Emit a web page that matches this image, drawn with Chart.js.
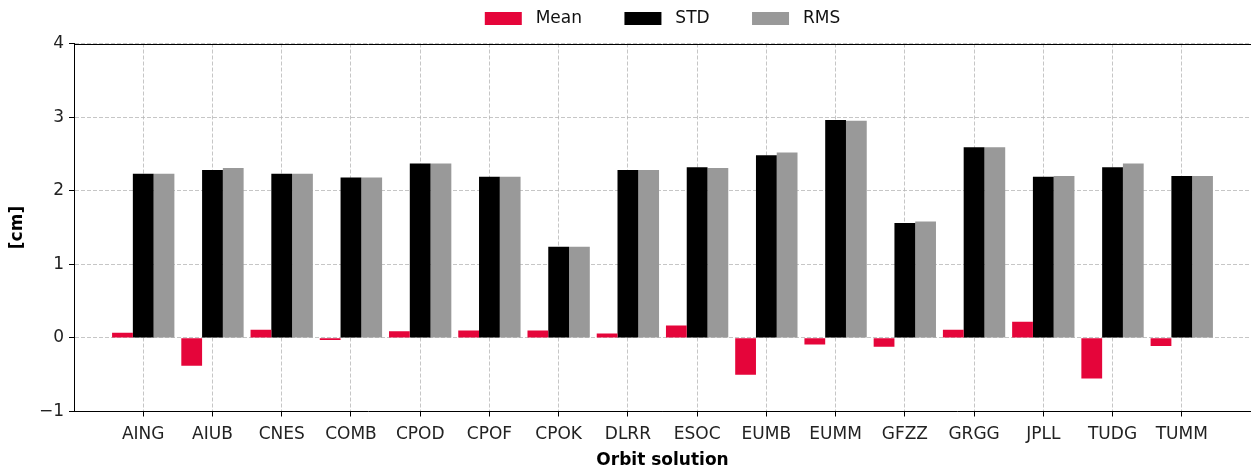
<!DOCTYPE html>
<html>
<head>
<meta charset="utf-8">
<script src="https://cdn.jsdelivr.net/npm/chart.js@4/dist/chart.umd.min.js"></script>
<style>
html,body{margin:0;padding:0;background:#fff;}
canvas{display:block;}
</style>
</head>
<body>
<canvas id="c" width="1251" height="470"></canvas>
<script>
const categories = ['AING','AIUB','CNES','COMB','CPOD','CPOF','CPOK','DLRR','ESOC','EUMB','EUMM','GFZZ','GRGG','JPLL','TUDG','TUMM'];
const meanValues = [0.07,-0.38,0.11,-0.03,0.09,0.10,0.10,0.06,0.17,-0.50,-0.09,-0.12,0.11,0.22,-0.55,-0.11];
const stdValues  = [2.23,2.28,2.23,2.18,2.37,2.19,1.24,2.28,2.32,2.48,2.96,1.56,2.59,2.19,2.32,2.20];
const rmsValues  = [2.23,2.31,2.23,2.18,2.37,2.19,1.24,2.28,2.31,2.52,2.95,1.58,2.59,2.20,2.37,2.20];
const yTicks = [-1,0,1,2,3,4];
const seriesNames = ['Mean','STD','RMS'];

// pad one empty slot at each end (matplotlib-like x margins)
const labels = [''].concat(categories, ['']);
const pad = arr => [null].concat(arr, [null]);
const lastIdx = labels.length - 1;

const FONT = "'DejaVu Sans', sans-serif";
const FS = 17;

const boxPlugin = {
  id: 'boxPlugin',
  beforeDraw(chart) {
    const ctx = chart.ctx;
    ctx.save();
    ctx.fillStyle = '#fff';
    ctx.fillRect(0, 0, chart.width, chart.height);
    ctx.restore();
  },
  afterDraw(chart) {
    const a = chart.chartArea;
    const ctx = chart.ctx;
    ctx.save();
    ctx.strokeStyle = '#000';
    ctx.lineWidth = 1;
    ctx.beginPath();
    ctx.moveTo(Math.round(a.left) + 0.5, Math.round(a.top) + 0.5);
    ctx.lineTo(chart.width, Math.round(a.top) + 0.5);
    ctx.stroke();
    ctx.restore();
  }
};

new Chart(document.getElementById('c'), {
  type: 'bar',
  data: {
    labels: labels,
    datasets: [
      { label: seriesNames[0], data: pad(meanValues), backgroundColor: '#e5053a' },
      { label: seriesNames[1], data: pad(stdValues),  backgroundColor: '#000000' },
      { label: seriesNames[2], data: pad(rmsValues),  backgroundColor: '#999999' }
    ]
  },
  options: {
    responsive: false,
    animation: false,
    devicePixelRatio: 1,
    layout: { padding: { left: 0, right: 0, top: 0, bottom: 0 } },
    datasets: { bar: { barPercentage: 1.0, categoryPercentage: 0.9, borderWidth: 0 } },
    plugins: {
      tooltip: { enabled: false },
      subtitle: {
        display: true,
        text: '',
        position: 'top',
        weight: 0,
        fullSize: false,
        font: { size: 1 },
        padding: { top: 5.3, bottom: 0 }
      },
      legend: {
        position: 'top',
        fullSize: false,
        labels: {
          boxWidth: 37,
          boxHeight: 13,
          padding: 10,
          color: '#111',
          font: { family: FONT, size: FS },
          generateLabels(chart) {
            const items = Chart.defaults.plugins.legend.labels.generateLabels(chart);
            items.forEach((it, i) => {
              it.text = ' ' + it.text + (i < items.length - 1 ? '      ' : '');
              it.lineWidth = 0;
            });
            return items;
          }
        }
      }
    },
    scales: {
      x: {
        type: 'category',
        offset: false,
        grid: {
          offset: false,
          color: '#b8b8b8',
          lineWidth: 0.8,
          tickLength: 5,
          tickColor: ctx => (ctx.index === 0 || ctx.index === lastIdx) ? 'rgba(0,0,0,0)' : '#000',
          tickWidth: 1
        },
        border: { display: true, color: '#000', width: 1, dash: [4, 2] },
        ticks: {
          autoSkip: false,
          maxRotation: 0,
          padding: 8,
          color: '#222',
          font: { family: FONT, size: FS }
        },
        title: {
          display: true,
          text: 'Orbit solution',
          color: '#000',
          font: { family: FONT, size: FS, weight: 'bold', lineHeight: 1.1 },
          padding: { top: 0, bottom: 0 }
        },
        afterFit(scale) {
          scale.height = 58.5;
          scale.paddingLeft = 0;
          scale.paddingRight = 0;
        }
      },
      y: {
        min: -1,
        max: 4,
        afterBuildTicks(scale) { scale.ticks = yTicks.map(v => ({ value: v })); },
        grid: {
          color: '#b8b8b8',
          lineWidth: 0.8,
          tickLength: 5,
          tickColor: '#000',
          tickWidth: 1
        },
        border: { display: true, color: '#000', width: 1, dash: [4, 2] },
        ticks: {
          padding: 5,
          color: '#222',
          font: { family: FONT, size: FS },
          callback: v => (v < 0 ? '\u2212' + Math.abs(v) : String(v))
        },
        title: {
          display: true,
          text: '[cm]',
          color: '#000',
          font: { family: FONT, size: FS, weight: 'bold' },
          padding: { top: 7, bottom: 0 }
        },
        afterFit(scale) { scale.width = 74; }
      }
    }
  },
  plugins: [boxPlugin]
});
</script>
</body>
</html>
